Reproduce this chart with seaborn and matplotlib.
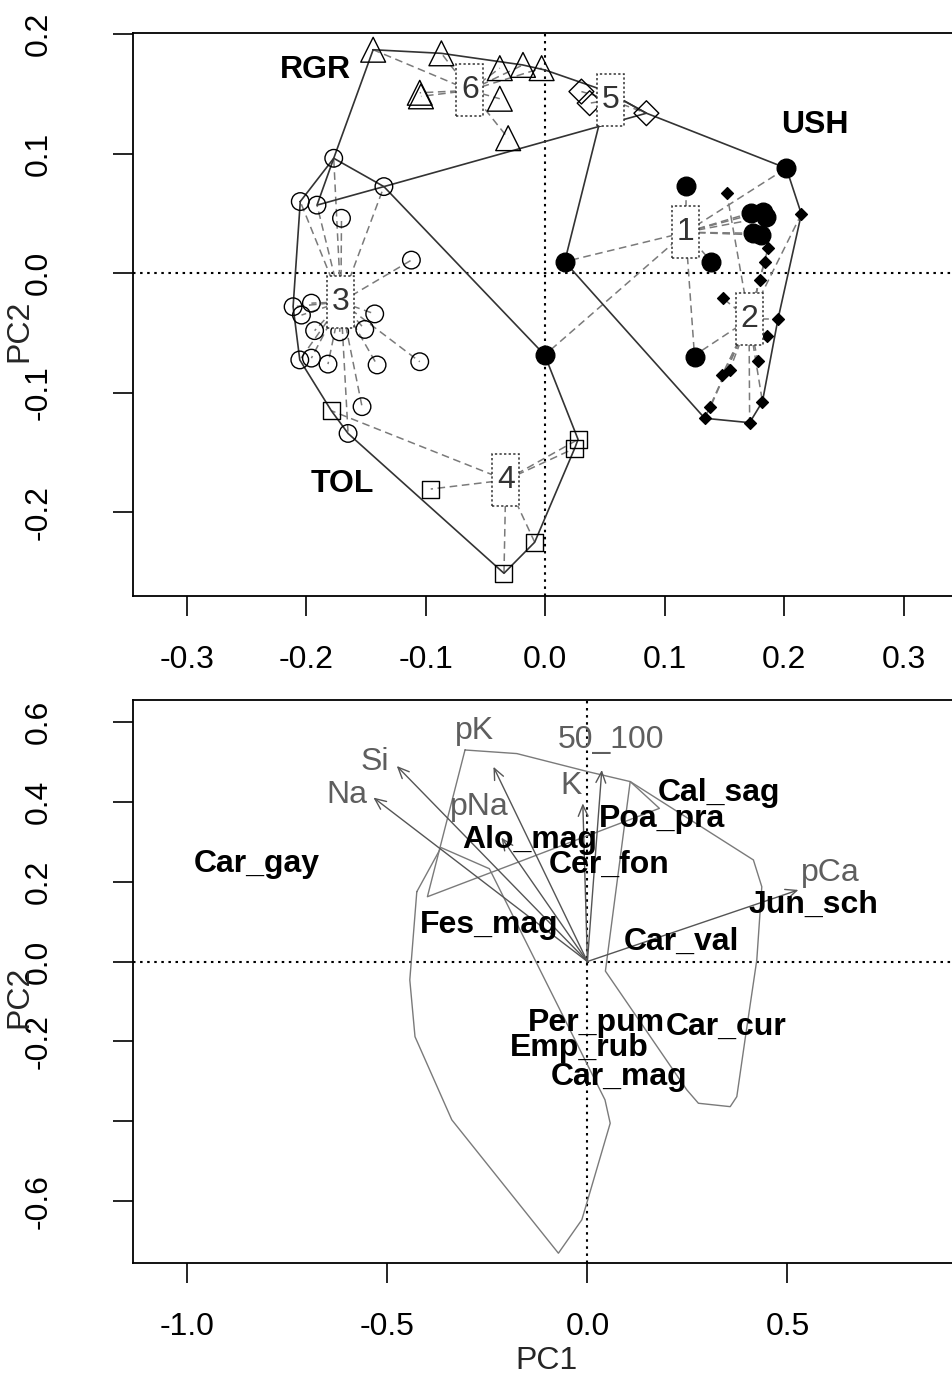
import matplotlib
matplotlib.use("Agg")
import matplotlib.pyplot as plt
from matplotlib.patches import Rectangle
import seaborn as sns

# ---------------- upper panel: site scores per cluster ----------------
# cluster 1: filled circles
c1_x = [0.118, 0.2018, 0.1725, 0.1823, 0.185, 0.174, 0.181, 0.139, 0.0163, -0.0004, 0.125]
c1_y = [0.073, 0.0879, 0.0507, 0.0516, 0.047, 0.0335, 0.032, 0.0097, 0.0097, -0.0684, -0.0698]
# cluster 2: small filled diamonds
c2_x = [0.152, 0.2144, 0.1865, 0.1837, 0.1795, 0.1488, 0.1948, 0.1856, 0.178, 0.1544,
        0.148, 0.1382, 0.1335, 0.1711, 0.1818, 0.126]
c2_y = [0.067, 0.0496, 0.021, 0.0097, -0.0056, -0.021, -0.0385, -0.0525, -0.0731, -0.081,
        -0.0851, -0.1121, -0.1213, -0.125, -0.1074, -0.068]
# cluster 3: open circles
c3_x = [-0.177, -0.135, -0.205, -0.191, -0.1705, -0.112, -0.211, -0.1957, -0.204, -0.1427,
        -0.193, -0.151, -0.172, -0.2054, -0.1957, -0.1818, -0.1407, -0.105, -0.1533, -0.165]
c3_y = [0.0962, 0.0725, 0.060, 0.057, 0.046, 0.011, -0.028, -0.025, -0.035, -0.034,
        -0.048, -0.047, -0.049, -0.0725, -0.071, -0.076, -0.0767, -0.074, -0.1116, -0.134]
# cluster 4: open squares
c4_x = [-0.179, -0.0958, -0.0345, -0.0088, 0.0275, 0.0247]
c4_y = [-0.115, -0.1805, -0.251, -0.225, -0.139, -0.1464]
# cluster 5: open diamonds
c5_x = [0.0303, 0.0372, 0.0847]
c5_y = [0.152, 0.1423, 0.1339]
# cluster 6: open triangles
c6_x = [-0.144, -0.0869, -0.105, -0.104, -0.038, -0.0186, -0.003, -0.038, -0.031]
c6_y = [0.187, 0.184, 0.151, 0.148, 0.1716, 0.1743, 0.1716, 0.146, 0.113]

# cluster centres (labelled boxes)
cent_lab = ["1", "2", "3", "4", "5", "6"]
cent_x = [0.1176, 0.1706, -0.171, -0.033, 0.0546, -0.063]
cent_y = [0.0343, -0.0385, -0.024, -0.173, 0.145, 0.153]

# hulls of the three areas
rgr_x = [-0.144, -0.087, -0.019, 0.0, 0.052, 0.0847, -0.135, -0.191, -0.177, -0.144]
rgr_y = [0.187, 0.184, 0.1743, 0.170, 0.152, 0.1339, 0.0725, 0.057, 0.0962, 0.187]
ush_x = [0.052, 0.0847, 0.2018, 0.2144, 0.1948, 0.1818, 0.1711, 0.1335, 0.0163, 0.052]
ush_y = [0.152, 0.1339, 0.0879, 0.0496, -0.0385, -0.1074, -0.125, -0.1213, 0.0097, 0.152]
tol_x = [-0.205, -0.177, -0.135, -0.0004, 0.0275, 0.0247, -0.0088, -0.0345, -0.165,
         -0.179, -0.2054, -0.211, -0.205]
tol_y = [0.060, 0.0962, 0.0725, -0.0684, -0.139, -0.1464, -0.225, -0.251, -0.134,
         -0.115, -0.0725, -0.028, 0.060]

area_lab = ["RGR", "USH", "TOL"]
area_x = [-0.192, 0.2255, -0.170]
area_y = [0.170, 0.124, -0.176]

# ---------------- lower panel: species, vectors, hulls ----------------
sp_names = ["Car_gay", "Alo_mag", "Cal_sag", "Poa_pra", "Cer_fon", "Fes_mag",
            "Jun_sch", "Car_val", "Per_pum", "Car_cur", "Emp_rub", "Car_mag"]
sp_x = [-0.826, -0.143, 0.329, 0.186, 0.054, -0.246, 0.565, 0.234, 0.022, 0.348, -0.021, 0.079]
sp_y = [0.245, 0.304, 0.4225, 0.356, 0.241, 0.091, 0.141, 0.0495, -0.154, -0.164, -0.217, -0.289]

vec_names = ["Na", "Si", "pK", "pNa", "50_100", "K", "pCa"]
vec_x = [-0.535, -0.4766, -0.2349, -0.215, 0.036, -0.0115, 0.5275]
vec_y = [0.41, 0.489, 0.487, 0.31, 0.479, 0.3955, 0.179]
vec_lab_x = [-0.601, -0.531, -0.283, -0.271, 0.059, -0.041, 0.607]
vec_lab_y = [0.416, 0.4995, 0.5775, 0.386, 0.554, 0.439, 0.2205]

polyA_x = [-0.306, -0.1765, 0.0025, 0.107, 0.18, -0.40, -0.306]
polyA_y = [0.529, 0.52, 0.4745, 0.45, 0.383, 0.162, 0.529]
polyB_x = [0.107, 0.415, 0.436, 0.4235, 0.394, 0.3735, 0.357, 0.2775, 0.2485, 0.045, 0.107]
polyB_y = [0.45, 0.254, 0.187, 0.004, -0.196, -0.338, -0.363, -0.3545, -0.321, -0.024, 0.45]
polyC_x = [-0.4265, -0.366, -0.245, 0.044, 0.057, -0.0015, -0.014, -0.0725, -0.339,
           -0.431, -0.444, -0.4265]
polyC_y = [0.1745, 0.285, 0.232, -0.346, -0.4045, -0.604, -0.646, -0.7295, -0.396,
           -0.188, -0.046, 0.1745]

# ---------------- styling ----------------
sns.set_theme(style="ticks")
plt.rcParams["font.family"] = ["Liberation Sans", "DejaVu Sans"]
plt.rcParams["axes.unicode_minus"] = False
FS = 23

W, H = 952, 1383
fig = plt.figure(figsize=(W / 100, H / 100), dpi=100)


def add_axes_px(left, top, right, bottom):
    return fig.add_axes([left / W, 1 - bottom / H, (right - left) / W, (bottom - top) / H])


def style_axes(ax, xlim, ylim, xticks, yticks, ylabels, ylab_y):
    ax.set_xlim(*xlim)
    ax.set_ylim(*ylim)
    ax.set_xticks(xticks)
    ax.set_xticklabels([f"{t:.1f}" for t in xticks])
    ax.set_yticks(yticks)
    ax.set_yticklabels(ylabels)
    for sp in ax.spines.values():
        sp.set_visible(True)
        sp.set_linewidth(1.3)
        sp.set_color("black")
    ax.tick_params(axis="both", direction="out", length=14.4, width=1.2,
                   color="black", labelsize=FS, labelcolor="black")
    ax.tick_params(axis="x", pad=21)
    ax.tick_params(axis="y", pad=43, labelrotation=90)
    plt.setp(ax.get_yticklabels(), va="center")
    ax.axhline(0, color="black", lw=1.5, ls=(0, (1.2, 2.2)), zorder=0)
    ax.axvline(0, color="black", lw=1.5, ls=(0, (1.2, 2.2)), zorder=0)
    ax.set_ylabel("PC2", fontsize=FS)
    ax.yaxis.set_label_coords((34 - 133) / 828, ylab_y)


ax1 = add_axes_px(133, 33, 961, 596)
ax2 = add_axes_px(133, 700, 961, 1263)

# ---- upper panel ----
clusters = [
    (c1_x, c1_y, "o", 180, "black"),
    (c2_x, c2_y, "D", 36, "black"),
    (c3_x, c3_y, "o", 160, "none"),
    (c4_x, c4_y, "s", 150, "none"),
    (c5_x, c5_y, "D", 160, "none"),
    (c6_x, c6_y, "^", 320, "none"),
]

# spiders from cluster centre to each site
for i, (xs, ys, _, _, _) in enumerate(clusters):
    for x, y in zip(xs, ys):
        ax1.plot([cent_x[i], x], [cent_y[i], y], color="#7a7a7a", lw=1.1,
                 ls=(0, (5, 3)), zorder=1)

for hx, hy in [(rgr_x, rgr_y), (ush_x, ush_y), (tol_x, tol_y)]:
    ax1.plot(hx, hy, color="#333333", lw=1.2, zorder=2)

for xs, ys, mk, size, fc in clusters:
    sns.scatterplot(x=xs, y=ys, ax=ax1, marker=mk, s=size, facecolor=fc,
                    edgecolor="black", linewidth=1.0, zorder=3, legend=False)

bw, bh = 27 / 1195, 52 / 1195
for lab, x, y in zip(cent_lab, cent_x, cent_y):
    ax1.add_patch(Rectangle((x - bw / 2, y - bh / 2), bw, bh, facecolor="white",
                            edgecolor="#333333", lw=1.1, ls=(0, (1.5, 1.5)), zorder=5))
    ax1.text(x, y, lab, fontsize=FS, color="#333333", ha="center", va="center", zorder=6)

for lab, x, y in zip(area_lab, area_x, area_y):
    ax1.text(x, y, lab, fontsize=FS, fontweight="bold", color="black",
             ha="center", va="center", zorder=6)

style_axes(ax1, (-0.345, 0.348), (-0.270, 0.201),
           [-0.3, -0.2, -0.1, 0.0, 0.1, 0.2, 0.3],
           [-0.2, -0.1, 0.0, 0.1, 0.2],
           ["-0.2", "-0.1", "0.0", "0.1", "0.2"],
           1 - (331 - 33) / 563)

# ---- lower panel ----
for px_, py_ in [(polyA_x, polyA_y), (polyB_x, polyB_y), (polyC_x, polyC_y)]:
    ax2.plot(px_, py_, color="#7a7a7a", lw=1.0, zorder=1)

for name, vx, vy, lx, ly in zip(vec_names, vec_x, vec_y, vec_lab_x, vec_lab_y):
    ax2.annotate("", xy=(vx, vy), xytext=(0, 0),
                 arrowprops=dict(arrowstyle="->,head_length=0.5,head_width=0.22",
                                 color="#555555", lw=1.0, shrinkA=0, shrinkB=0,
                                 mutation_scale=16), zorder=2)
    ax2.text(lx, ly, name, fontsize=FS, color="#5e5e5e", ha="center", va="center", zorder=3)

for name, x, y in zip(sp_names, sp_x, sp_y):
    ax2.text(x, y, name, fontsize=FS, fontweight="bold", color="black",
             ha="center", va="center", zorder=4)

style_axes(ax2, (-1.136, 0.934), (-0.754, 0.654),
           [-1.0, -0.5, 0.0, 0.5],
           [-0.6, -0.4, -0.2, 0.0, 0.2, 0.4, 0.6],
           ["-0.6", "", "-0.2", "0.0", "0.2", "0.4", "0.6"],
           1 - (997 - 700) / 563)
ax2.set_xlabel("PC1", fontsize=FS)
ax2.xaxis.set_label_coords(0.5, -(1346 - 1263) / 563)

fig.savefig("out.png", dpi=100)
